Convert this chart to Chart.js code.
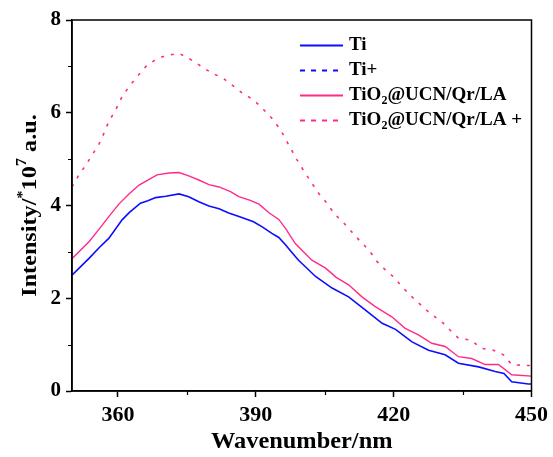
<!DOCTYPE html>
<html>
<head>
<meta charset="utf-8">
<script src="https://cdn.jsdelivr.net/npm/chart.js@4/dist/chart.umd.min.js"></script>
<style>
  html, body { margin: 0; padding: 0; background: #fff; }
  #wrap { width: 553px; height: 457px; }
</style>
</head>
<body>
<div id="wrap"><canvas id="c" width="553" height="457"></canvas></div>
<script>
// ---- data ----
const seriesNames = ['Ti', 'Ti+', 'TiO2@UCN/Qr/LA', 'TiO2@UCN/Qr/LA +'];
const xTitle = 'Wavenumber/nm';

const tiX = [350, 353.7, 356, 358, 360.9, 362.5, 364.9, 366.5, 368.2, 370.4, 373.3, 375.4, 377.6, 379.8, 382, 384.1, 386.5, 389.5, 391.4, 393.5, 395, 396.5, 398, 399.3, 400.8, 403, 406.6, 410.2, 413.8, 417.5, 420.4, 424, 427.6, 431.2, 434.1, 438.5, 442.1, 444, 445.7, 449.3, 450];
const tiY = [2.50, 2.86, 3.10, 3.29, 3.69, 3.85, 4.05, 4.10, 4.17, 4.20, 4.25, 4.19, 4.08, 3.99, 3.93, 3.84, 3.76, 3.65, 3.54, 3.40, 3.31, 3.15, 2.97, 2.82, 2.68, 2.47, 2.22, 2.03, 1.75, 1.46, 1.33, 1.06, 0.88, 0.78, 0.60, 0.52, 0.42, 0.38, 0.20, 0.15, 0.15];

const tiPlusX = [];
const tiPlusY = [];

const tqX = [350, 353.7, 355.9, 358, 360.2, 362.4, 364.6, 366.7, 368.5, 371.1, 373.3, 375.4, 377.6, 379.8, 382, 384.5, 386.3, 388.8, 390.7, 392.8, 395, 396.5, 398.6, 402.2, 405.2, 407.5, 410.2, 413.1, 416, 419.6, 422.5, 425.4, 428.3, 431.2, 434.1, 437, 439.9, 442.8, 445.7, 450];
const tqY = [2.85, 3.22, 3.49, 3.76, 4.03, 4.25, 4.44, 4.56, 4.66, 4.70, 4.71, 4.64, 4.55, 4.45, 4.40, 4.30, 4.19, 4.11, 4.03, 3.85, 3.70, 3.50, 3.18, 2.82, 2.65, 2.45, 2.29, 2.03, 1.82, 1.60, 1.35, 1.21, 1.03, 0.96, 0.74, 0.70, 0.57, 0.57, 0.35, 0.32];

const tqPlusX = [350, 351.5, 353, 354.4, 356.2, 358, 359.5, 360.9, 362.4, 364.2, 366, 368.2, 370.4, 373.3, 375.8, 378.3, 380.5, 382.7, 384.8, 387, 389.6, 391.4, 393.5, 395.4, 397.2, 399, 400.8, 403.7, 405.5, 407, 409.1, 410.9, 412.8, 414.6, 416.4, 418.2, 420, 421.8, 424, 426.2, 428, 430.5, 432.3, 434.1, 436.7, 439.2, 441.7, 443.9, 445.7, 448.6, 450];
const tqPlusY = [4.40, 4.66, 4.87, 5.09, 5.38, 5.81, 6.06, 6.35, 6.56, 6.78, 6.99, 7.15, 7.23, 7.28, 7.15, 6.99, 6.85, 6.76, 6.60, 6.43, 6.27, 6.10, 5.88, 5.63, 5.30, 4.98, 4.69, 4.26, 4.05, 3.83, 3.63, 3.43, 3.22, 3.04, 2.79, 2.61, 2.46, 2.25, 2.03, 1.83, 1.67, 1.49, 1.31, 1.14, 1.10, 0.92, 0.88, 0.78, 0.57, 0.55, 0.55];

const xTicks = [360, 390, 420, 450];
const xMinorTicks = [375, 405, 435];
const yMinorTicks = [1, 3, 5, 7];

const BLUE = '#0d0dff';
const PINK = '#ff2a8c';
const FONT = '"Liberation Serif", "Times New Roman", serif';

function pts(xs, ys) { return xs.map((x, i) => ({ x: x, y: ys[i] })); }

// ---- plugins ----
const framePlugin = {
  id: 'frame',
  afterDraw(chart) {
    const { ctx, chartArea: a, scales } = chart;
    ctx.save();
    ctx.strokeStyle = '#000';
    ctx.lineWidth = 1.5;
    ctx.strokeRect(a.left, a.top, a.right - a.left, a.bottom - a.top);
    // minor ticks
    ctx.lineWidth = 1.2;
    ctx.beginPath();
    yMinorTicks.forEach(v => {
      const y = Math.round(scales.y.getPixelForValue(v)) + 0.5;
      ctx.moveTo(a.left - 4, y); ctx.lineTo(a.left, y);
    });
    xMinorTicks.forEach(v => {
      const x = Math.round(scales.x.getPixelForValue(v)) + 0.5;
      ctx.moveTo(x, a.bottom); ctx.lineTo(x, a.bottom + 4);
    });
    ctx.stroke();
    ctx.restore();

    // x axis title
    ctx.save();
    ctx.fillStyle = '#000';
    ctx.font = 'bold 23px ' + FONT;
    ctx.textAlign = 'center';
    ctx.textBaseline = 'middle';
    ctx.translate((a.left + a.right) / 2, 442);
    ctx.scale(1.06, 1);
    ctx.fillText(xTitle, 0, 0);
    ctx.restore();

    // y axis title with superscripts
    ctx.save();
    const big = 'bold 22px ' + FONT;
    const small = 'bold 15px ' + FONT;
    const parts = [
      ['Intensity/', big, 0], ['*', small, -7], ['10', big, 0], ['7', small, -8], [' a.u.', big, 0]
    ];
    let total = 0;
    parts.forEach(p => { ctx.font = p[1]; total += ctx.measureText(p[0]).width; });
    ctx.translate(29, (a.top + a.bottom) / 2);
    ctx.rotate(-Math.PI / 2);
    ctx.scale(1.1, 1);
    ctx.fillStyle = '#000';
    ctx.textBaseline = 'middle';
    ctx.textAlign = 'left';
    let cx = -total / 2;
    parts.forEach(p => {
      ctx.font = p[1];
      ctx.fillText(p[0], cx, p[2] + 1);
      cx += ctx.measureText(p[0]).width;
    });
    ctx.restore();
  }
};

const legendPlugin = {
  id: 'customLegend',
  afterDraw(chart) {
    const { ctx } = chart;
    const rowsY = [45, 70, 95, 120];
    const x0 = 300, x1 = 343, tx = 349;
    ctx.save();
    chart.data.datasets.forEach((ds, i) => {
      const y = rowsY[i] + 0.5;
      ctx.strokeStyle = ds.borderColor;
      ctx.lineWidth = 1.8;
      ctx.setLineDash(ds.borderDash && ds.borderDash.length ? [5, 6] : []);
      ctx.beginPath();
      ctx.moveTo(x0, y); ctx.lineTo(x1, y);
      ctx.stroke();
      ctx.setLineDash([]);
      ctx.fillStyle = '#000';
      ctx.textBaseline = 'middle';
      ctx.textAlign = 'left';
      const name = seriesNames[i];
      const big = 'bold 19px ' + FONT;
      const sub = 'bold 12px ' + FONT;
      let cx = tx;
      if (name.startsWith('TiO2')) {
        ctx.font = big; ctx.fillText('TiO', cx, rowsY[i]); cx += ctx.measureText('TiO').width;
        ctx.font = sub; ctx.fillText('2', cx, rowsY[i] + 6); cx += ctx.measureText('2').width;
        ctx.font = big; ctx.fillText(name.slice(4), cx, rowsY[i]);
      } else {
        ctx.font = big; ctx.fillText(name, cx, rowsY[i]);
      }
    });
    ctx.restore();
  }
};

new Chart(document.getElementById('c'), {
  type: 'line',
  data: {
    datasets: [
      { label: seriesNames[0], data: pts(tiX, tiY), borderColor: BLUE, borderWidth: 1.6, pointRadius: 0, tension: 0, fill: false },
      { label: seriesNames[1], data: pts(tiPlusX, tiPlusY), borderColor: BLUE, borderWidth: 1.6, borderDash: [3, 7], pointRadius: 0, tension: 0, fill: false },
      { label: seriesNames[2], data: pts(tqX, tqY), borderColor: PINK, borderWidth: 1.4, pointRadius: 0, tension: 0, fill: false },
      { label: seriesNames[3], data: pts(tqPlusX, tqPlusY), borderColor: PINK, borderWidth: 1.6, borderDash: [3, 7], pointRadius: 0, tension: 0, fill: false }
    ]
  },
  options: {
    responsive: false,
    animation: false,
    devicePixelRatio: 1,
    layout: { padding: { top: 20, right: 20, left: 0, bottom: 0 } },
    plugins: { legend: { display: false }, tooltip: { enabled: false } },
    scales: {
      x: {
        type: 'linear', min: 350, max: 450,
        afterBuildTicks(s) { s.ticks = xTicks.map(v => ({ value: v })); },
        afterFit(s) { s.height = 66; },
        ticks: { color: '#000', font: { family: FONT, size: 22, weight: 'bold' }, padding: 5, maxRotation: 0 },
        grid: { display: true, drawOnChartArea: false, drawTicks: true, tickLength: 6, color: '#000', tickWidth: 1.5 },
        border: { display: true, color: '#000', width: 1.5 },
        title: { display: false }
      },
      y: {
        min: 0, max: 8,
        ticks: { stepSize: 2, color: '#000', font: { family: FONT, size: 21, weight: 'bold' }, padding: 5 },
        afterFit(s) { s.width = 72; },
        grid: { display: true, drawOnChartArea: false, drawTicks: true, tickLength: 6, color: '#000', tickWidth: 1.5 },
        border: { display: true, color: '#000', width: 1.5 },
        title: { display: false }
      }
    }
  },
  plugins: [framePlugin, legendPlugin]
});
</script>
</body>
</html>
